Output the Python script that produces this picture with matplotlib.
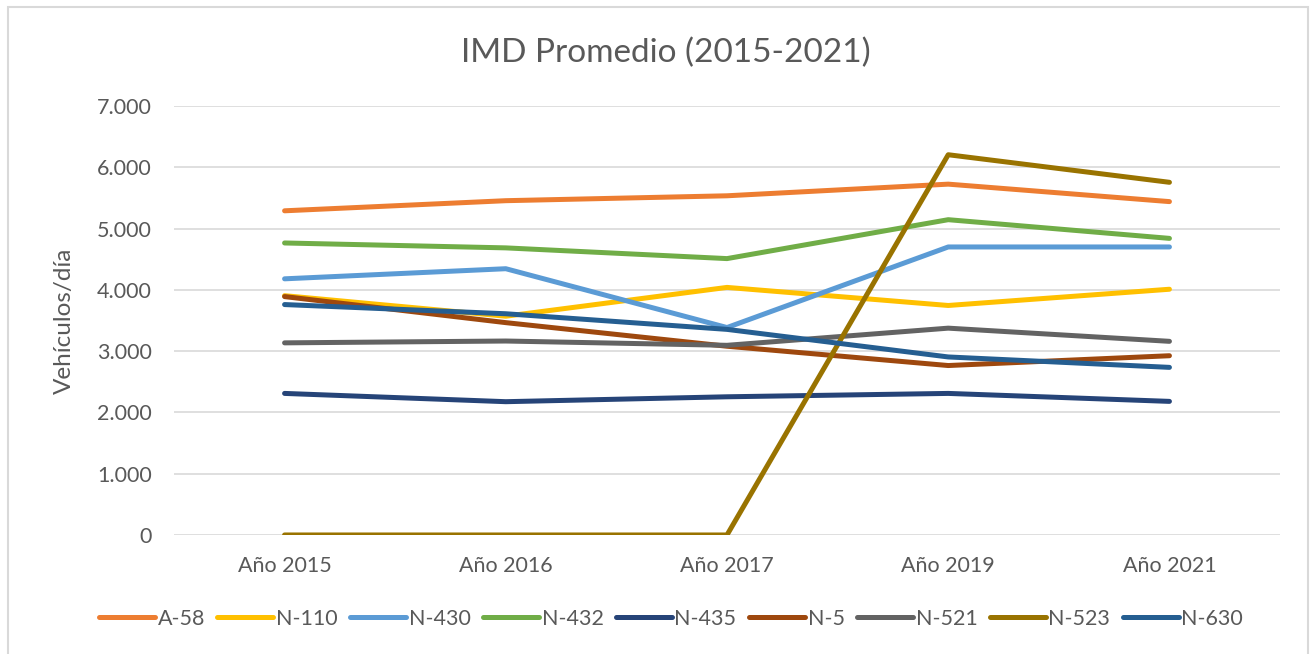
import matplotlib.pyplot as plt
from matplotlib.patches import Rectangle
from matplotlib.ticker import FuncFormatter

# years on the category axis
years = ["Año 2015", "Año 2016", "Año 2017", "Año 2019", "Año 2021"]

# average daily traffic per road (vehicles/day)
a58 = [5290, 5455, 5535, 5725, 5440]
n110 = [3905, 3570, 4040, 3745, 4010]
n430 = [4180, 4345, 3385, 4700, 4700]
n432 = [4765, 4685, 4510, 5145, 4840]
n435 = [2310, 2175, 2255, 2310, 2180]
n5 = [3890, 3465, 3080, 2765, 2925]
n521 = [3135, 3165, 3095, 3375, 3160]
n523 = [0, 0, 0, 6205, 5755]
n630 = [3760, 3610, 3355, 2905, 2735]

roads = ["A-58", "N-110", "N-430", "N-432", "N-435", "N-5", "N-521", "N-523", "N-630"]
series = [a58, n110, n430, n432, n435, n5, n521, n523, n630]
colors = ["#ED7D31", "#FFC000", "#5B9BD5", "#70AD47", "#264478",
          "#9E480E", "#636363", "#997300", "#255E91"]

plt.rcParams['font.family'] = ['Lato', 'DejaVu Sans']
txt = "#595959"

fig = plt.figure(figsize=(13.13, 6.54), dpi=100)
ax = fig.add_axes([0.1325, 0.182, 0.8424, 0.6559])

# chart border (cut off at bottom like the screenshot)
fig.patches.append(Rectangle((8 / 1313, -0.1), 1300 / 1313, 1.1 - 7 / 654,
                             transform=fig.transFigure, fill=False,
                             edgecolor="#d9d9d9", linewidth=1.5))

x = range(len(years))
for name, vals, c in zip(roads, series, colors):
    ax.plot(x, vals, color=c, linewidth=3.6, label=name,
            solid_capstyle="round", solid_joinstyle="round")

ax.set_xlim(-0.5, len(years) - 0.5)
ax.set_ylim(0, 7000)
ax.set_yticks(range(0, 7001, 1000))
ax.yaxis.set_major_formatter(FuncFormatter(lambda v, p: "{:,.0f}".format(v).replace(",", ".")))
ax.set_xticks(list(x))
ax.set_xticklabels(years)
ax.grid(axis="y", color="#d9d9d9", linewidth=1.2)
ax.set_axisbelow(True)
for s in ax.spines.values():
    s.set_visible(False)
ax.tick_params(length=0, labelsize=15.5, labelcolor=txt)
ax.tick_params(axis="y", pad=16)
ax.tick_params(axis="x", pad=15)

ax.set_ylabel("Vehículos/día", fontsize=17.5, color=txt)
ax.yaxis.set_label_coords(-0.0895, 0.5)
fig.text(666 / 1313, 1 - 53 / 654, "IMD Promedio (2015-2021)", ha="center", va="center",
         fontsize=24, color=txt)

fig.legend(loc="center", bbox_to_anchor=(671 / 1313, 1 - 619 / 654), ncol=9,
           frameon=False, fontsize=15.5, labelcolor=txt, handlelength=2.6,
           handletextpad=0.12, columnspacing=0.58)

fig.savefig("out.png", dpi=100)
